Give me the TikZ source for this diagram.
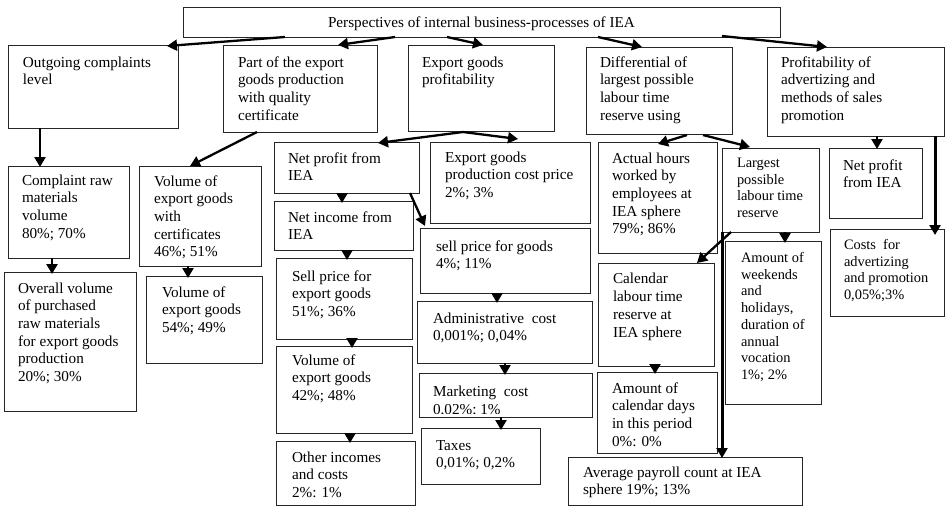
\documentclass[tikz,border=0pt]{standalone}
\usepackage{fontspec}
\setmainfont{Liberation Serif}
\usepackage{trimclip}
\usetikzlibrary{arrows.meta,calc}
% #1 width, #2 height, #3 left inset, #4 first baseline, #5 text
\newcommand\bxt[5]{\parbox[c][#2pt][t]{#1pt}{\leftskip=#3pt\rightskip=-200pt plus 1fil\parindent=0pt\parfillskip=0pt plus 1fil\rule{0pt}{#4pt}#5}}
\tikzset{
  bx/.style={draw=black!85, line width=0.9pt, inner sep=0pt, outer sep=0pt, anchor=north west, font=\fontsize{15.2}{17.7}\selectfont},
  bxs/.style={bx, font=\fontsize{14.4}{16.7}\selectfont},
  bxw/.style={bx, font=\fontsize{15.2}{18.3}\selectfont},
  arr/.style={line width=2.3pt, -{Triangle[length=10pt,width=11pt]}},
  arrb/.style={arr, line width=3pt}
}
\begin{document}
\begin{tikzpicture}[x=1pt,y=-1pt]
\useasboundingbox (0,0) rectangle (945,506);
\fill[white] (0,0) rectangle (945,506);
% row 0
\node[bx] (top) at (183,7) {\bxt{597}{30}{145}{20}{Perspectives of internal business-processes of IEA}};
% row 1
\node[bx] (outg) at (8,45) {\bxt{170}{83}{15}{22}{Outgoing complaints\\level}};
\node[bx] (pexp) at (223,45) {\bxt{154}{87}{15}{22}{Part of the export\\goods production\\with quality\\certificate}};
\node[bx] (egp) at (408,45) {\bxt{146}{86}{14}{22}{Export goods\\profitability}};
\node[bx] (diff) at (586,47) {\bxt{146}{87}{14}{20}{Differential of\\largest possible\\labour time\\reserve using}};
\node[bx] (prof) at (767,47) {\bxt{177}{89}{14}{20}{Profitability of\\advertizing and\\methods of sales\\promotion}};
% row 2
\node[bx] (craw) at (8,166) {\bxt{121}{92}{14}{19}{Complaint raw\\materials\\volume\\80\%; 70\%}};
\node[bx] (vcert) at (139,166) {\bxt{122}{100}{15}{20}{Volume of\\export goods\\with\\certificates\\46\%; 51\%}};
\node[bx] (npl) at (274,142) {\bxt{145}{51}{14}{21}{Net profit from\\IEA}};
\node[bx] (ecost) at (430,142) {\bxt{160}{81}{15}{20}{Export goods\\production cost price\\2\%; 3\%}};
\node[bx] (actual) at (598,142) {\bxt{119}{111}{14}{21}{Actual hours\\worked by\\employees at\\IEA sphere\\79\%; 86\%}};
\node[bxs] (largest) at (722,148) {\bxt{97}{84}{15}{19.5}{Largest\\possible\\labour time\\reserve}};
\node[bx] (npr) at (829,148) {\bxt{93}{70}{14}{22}{Net profit\\from IEA}};
\node[bxs] (costs) at (830,229) {\bxt{114}{87}{14}{20.5}{Costs~ for\\advertizing\\and promotion\\0,05\%;3\%}};
% lower boxes
\node[bx] (overall) at (4,272) {\bxt{132}{139}{14}{21}{Overall volume\\of purchased\\raw materials\\for export goods\\production\\20\%; 30\%}};
\node[bx] (v54) at (146,276) {\bxt{116}{87}{16}{21}{Volume of\\export goods\\54\%; 49\%}};
\node[bx] (nincome) at (274,201) {\bxt{139}{49}{14}{21}{Net income from\\IEA}};
\node[bx] (spexp) at (276,258) {\bxt{136}{81}{16}{23}{Sell price for\\export goods\\51\%; 36\%}};
\node[bx] (v42) at (276,346) {\bxt{136}{87}{16}{19}{Volume of\\export goods\\42\%; 48\%}};
\node[bx] (other) at (276,441) {\bxt{139}{64}{16}{21}{Other incomes\\and costs\\2\%: 1\%}};
\node[bx] (spg) at (420,228) {\bxt{170}{65}{16}{23}{sell price for goods\\4\%; 11\%}};
\node[bx] (admin) at (417,301) {\bxt{175}{62}{16}{22}{Administrative~ cost\\0,001\%; 0,04\%}};
\node[bx] (mkt) at (419,373) {\bxt{173}{44}{14}{23}{Marketing~ cost\\\clipbox{0pt 3pt 0pt 0pt}{0,02\%; 1\%}}};
\node[bx] (taxes) at (421,428) {\bxt{119}{56}{15}{22}{Taxes\\0,01\%; 0,2\%}};
\node[bxw] (calendar) at (598,263) {\bxt{116}{103}{15}{20}{Calendar\\labour time\\reserve at\\IEA sphere}};
\node[bxs] (weekends) at (725,241) {\bxt{96}{163}{16}{21.5}{Amount of\\weekends\\and\\holidays,\\duration of\\annual\\vocation\\1\%; 2\%}};
\node[bx] (acal) at (597,372) {\bxt{120}{81}{15}{21}{Amount of\\calendar days\\in this period\\0\%: 0\%}};
\node[bx] (avg) at (568,457) {\bxt{234}{48}{15}{20}{Average payroll count at IEA\\sphere 19\%; 13\%}};
% arrows from top
\draw[arr] ($(top.south west)+(102,0)$) -- ($(outg.north west)+(159,1)$);
\draw[arr] ($(top.south west)+(212,0)$) -- ($(pexp.north west)+(115,0)$);
\draw[arr] ($(top.south west)+(264,0)$) -- ($(egp.north west)+(75,0)$);
\draw[arr] ($(top.south west)+(415,0)$) -- ($(diff.north west)+(56,0)$);
\draw[arr] ($(top.south west)+(539,-1)$) -- ($(prof.north west)+(60,0)$);
% column 1-2
\draw[arr] ($(outg.south west)+(32,0)$) -- ($(craw.north west)+(32,1)$);
\draw[arr] ($(pexp.south west)+(34,0)$) -- ($(vcert.north west)+(51,0)$);
\draw[arr] ($(craw.south west)+(44,0)$) -- ($(overall.north west)+(48,2)$);
\draw[arr] ($(vcert.south west)+(49,0)$) -- ($(v54.north west)+(42,2)$);
% export goods profitability
\draw[arr] ($(egp.south west)+(55,1)$) -- ($(npl.north east)+(-41,1)$);
\draw[arr] ($(egp.south west)+(55,1)$) -- ($(ecost.north west)+(88,-3)$);
\draw[arr] ($(npl.south west)+(68,0)$) -- ($(nincome.north west)+(68,2)$);
\draw[arr] ($(npl.south east)+(-9,0)$) -- ($(spg.north west)+(5,-2)$);
\draw[arr] ($(nincome.south west)+(73,0)$) -- ($(spexp.north west)+(71,2)$);
\draw[arr] ($(spexp.south west)+(76,0)$) -- ($(v42.north west)+(76,2)$);
\draw[arr] ($(v42.south west)+(74,0)$) -- ($(other.north west)+(74,2)$);
\draw[arr] ($(spg.south west)+(77,0)$) -- ($(admin.north west)+(80,2)$);
\draw[arr] ($(admin.south west)+(88,0)$) -- ($(mkt.north west)+(86,2)$);
\draw[arr] ($(mkt.south west)+(82,0)$) -- ($(taxes.north west)+(80,2)$);
% differential
\draw[arr] ($(diff.south west)+(101,1)$) -- ($(actual.north west)+(60,2)$);
\draw[arr] ($(diff.south west)+(117,1)$) -- ($(largest.north west)+(28,-1)$);
\draw[arr] ($(largest.south west)+(63,0)$) -- ($(weekends.north west)+(60,2)$);
\draw[arr] ($(largest.south west)+(9,0)$) -- ($(calendar.north east)+(-17,0)$);
\draw[arrb] (largest.south west) -- ($(avg.north west)+(154,1)$);
\draw[arr] ($(calendar.south west)+(57,0)$) -- ($(acal.north west)+(58,2)$);
% profitability of advertizing
\draw[arr] ($(prof.south west)+(110,0)$) -- ($(npr.north west)+(48,1)$);
\draw[arrb] ($(prof.south east)+(-9,0)$) -- ($(costs.north east)+(-9,6)$);
\end{tikzpicture}
\end{document}
